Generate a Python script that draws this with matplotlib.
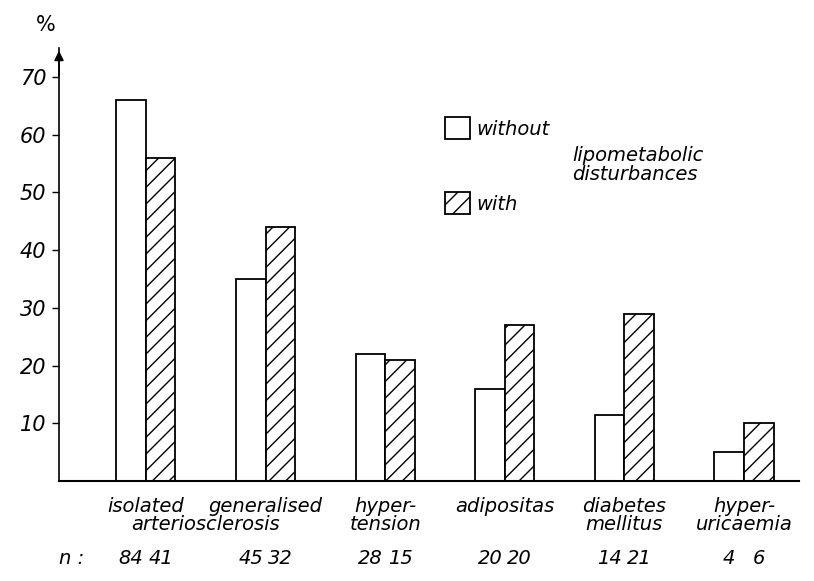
import matplotlib
matplotlib.use("Agg")
import matplotlib.pyplot as plt
from matplotlib.patches import Patch
import numpy as np

# values (percent)
line1 = ["isolated", "generalised", "hyper-", "adipositas", "diabetes", "hyper-"]
line2 = ["", "", "tension", "", "mellitus", "uricaemia"]
without = [66, 35, 22, 16, 11.5, 5]
with_ = [56, 44, 21, 27, 29, 10]
n_without = [84, 45, 28, 20, 14, 4]
n_with = [41, 32, 15, 20, 21, 6]
yticks = [10, 20, 30, 40, 50, 60, 70]

plt.rcParams['font.family'] = 'DejaVu Sans'
plt.rcParams['font.style'] = 'italic'
plt.rcParams['hatch.linewidth'] = 1.0

fig = plt.figure(figsize=(8.14, 5.81), dpi=100)
ax = fig.add_axes([59/814, 1-481/581, 740/814, 433/581])

x = np.arange(len(line1))
w = 0.247
ax.bar(x - w/2, without, w, color='white', edgecolor='black', linewidth=1.3)
ax.bar(x + w/2, with_, w, color='white', edgecolor='black', linewidth=1.3, hatch='//')

ax.set_xlim(-0.727, 5.46)
ax.set_ylim(0, 75)
ax.set_yticks(yticks)
ax.set_yticklabels([str(t) for t in yticks], fontsize=15)
ax.set_xticks([])
ax.tick_params(axis='y', direction='out', length=5, width=1.0, pad=4)
for s in ['top', 'right']:
    ax.spines[s].set_visible(False)
ax.spines['left'].set_linewidth(1.2)
ax.spines['bottom'].set_linewidth(1.5)

# arrow on y axis
ax.annotate('', xy=(0, 1.0), xytext=(0, 0.93), xycoords='axes fraction',
            arrowprops=dict(arrowstyle='-|>', color='black', lw=1.2,
                            mutation_scale=14))
ax.text(-0.018, 1.053, '%', transform=ax.transAxes, ha='center', va='center',
        fontsize=15, style='normal')

# category labels
tr = ax.get_xaxis_transform()
for i in range(len(line1)):
    ax.text(x[i], -0.058, line1[i], transform=tr, ha='center', va='center', fontsize=14)
    if line2[i]:
        ax.text(x[i], -0.10, line2[i], transform=tr, ha='center', va='center', fontsize=14)
    ax.text(x[i] - w/2, -0.18, str(n_without[i]), transform=tr, ha='center', va='center', fontsize=14)
    ax.text(x[i] + w/2, -0.18, str(n_with[i]), transform=tr, ha='center', va='center', fontsize=14)
ax.text(0.5, -0.10, 'arteriosclerosis', transform=tr, ha='center', va='center', fontsize=14)
ax.text(0.0, -0.18, 'n :', transform=ax.transAxes, ha='left', va='center', fontsize=14)

# legend
handles = [Patch(facecolor='white', edgecolor='black', linewidth=1.3),
           Patch(facecolor='white', edgecolor='black', linewidth=1.3, hatch='//')]
ax.legend(handles, ['without', 'with'], loc='upper left',
          bbox_to_anchor=(445/814, 1-117/581), bbox_transform=fig.transFigure,
          frameon=False, fontsize=14, borderpad=0, borderaxespad=0,
          handlelength=1.3, handleheight=1.4, handletextpad=0.3, labelspacing=2.7)
fig.text(572/814, 1-165/581, 'lipometabolic\ndisturbances', ha='left', va='center',
         fontsize=14, linespacing=0.95)

plt.savefig('out.png', dpi=100)
